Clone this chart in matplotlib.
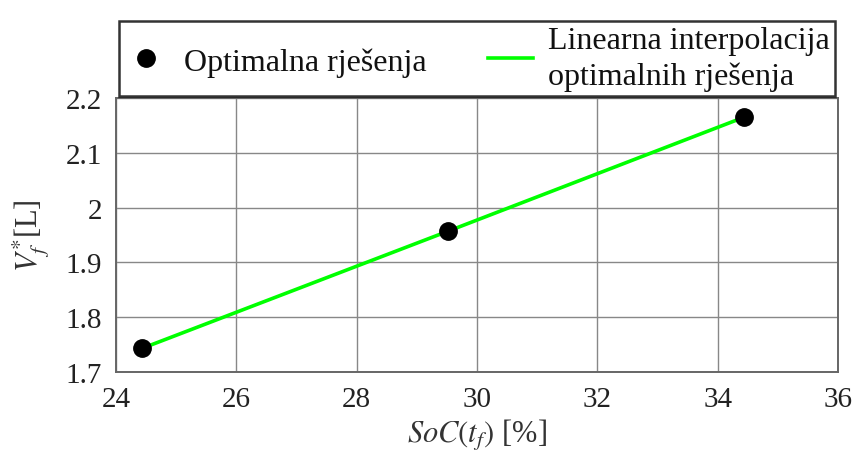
import matplotlib
matplotlib.use('Agg')
import matplotlib.pyplot as plt

plt.rcParams['font.family'] = ['Liberation Serif', 'DejaVu Serif']
plt.rcParams['mathtext.fontset'] = 'stix'

# data
soc = [24.43, 29.52, 34.44]
volume = [1.743, 1.957, 2.165]

x_ticks = [24, 26, 28, 30, 32, 34, 36]
y_ticks = [1.7, 1.8, 1.9, 2.0, 2.1, 2.2]
y_tick_labels = ['1.7', '1.8', '1.9', '2', '2.1', '2.2']

fig = plt.figure(figsize=(8.55, 4.56), dpi=100)
ax = fig.add_axes([116 / 855, 1 - 373 / 456, 722 / 855, 274 / 456])

ln, = ax.plot(soc, volume, color=(0, 1, 0), lw=2.6, zorder=2)
pts, = ax.plot(soc, volume, 'o', color='black', ms=12.5, ls='none', zorder=3)

ax.set_xlim(24, 36)
ax.set_ylim(1.7, 2.2)
ax.set_xticks(x_ticks)
ax.set_yticks(y_ticks)
ax.set_yticklabels(y_tick_labels)
ax.tick_params(labelsize=21, length=0, pad=10, colors='#222222')
ax.grid(True, color='#888888', lw=1.0)
for s in ax.spines.values():
    s.set_color('#666666')
    s.set_linewidth(1.4)

ax.set_xlabel(r'$SoC(t_f)$ [%]', fontsize=22, color='#333333', labelpad=4)
ax.set_ylabel(r'$V_f^{*}$[L]', fontsize=22, color='#333333', labelpad=10)

leg = fig.legend([pts, ln], ['Optimalna rješenja', 'Linearna interpolacija\noptimalnih rješenja'],
                 loc='lower left', bbox_to_anchor=(119 / 855, 1 - 97 / 456),
                 ncol=2, fontsize=23, frameon=True, fancybox=False,
                 handlelength=1.4, handletextpad=0.5, borderaxespad=0, borderpad=0.15,
                 columnspacing=1.9, labelspacing=0.2)
leg.get_frame().set_edgecolor('black')
leg.get_frame().set_linewidth(1.8)
for t in leg.get_texts():
    t.set_color('#111111')
    t.set_linespacing(1.3)

fig.savefig('out.png', dpi=100)
